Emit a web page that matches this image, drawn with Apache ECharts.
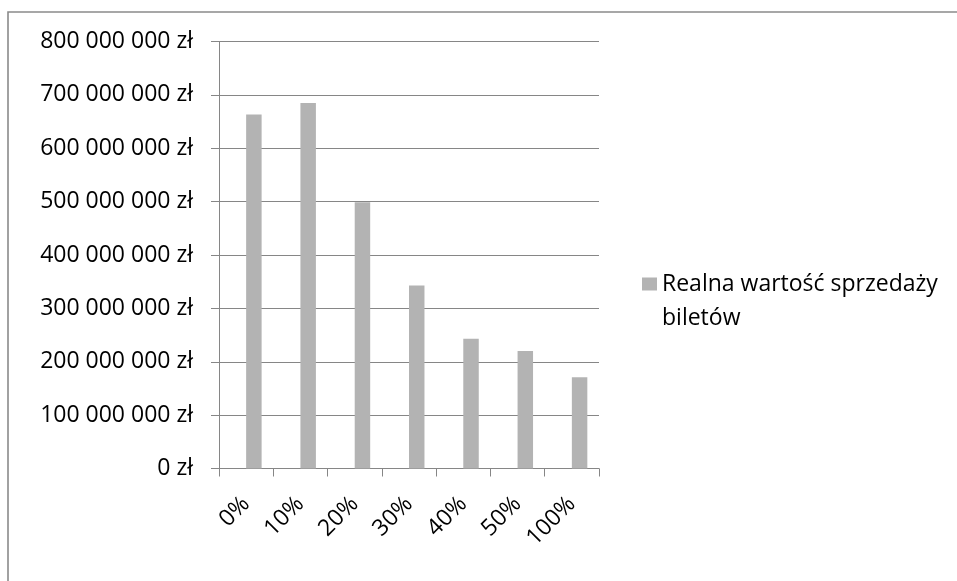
<!DOCTYPE html>
<html>
<head>
<meta charset="utf-8">
<script src="https://cdn.jsdelivr.net/npm/echarts@6/dist/echarts.min.js"></script>
<style>
  html, body { margin: 0; padding: 0; background: #ffffff; }
  #chart { width: 957px; height: 581px; }
</style>
</head>
<body>
<div id="chart"></div>
<script>
// Discount levels on the category axis
const categories = ['0%', '10%', '20%', '30%', '40%', '50%', '100%'];
// Realised ticket sales value (PLN)
const salesValues = [663000000, 685000000, 499000000, 343000000, 243000000, 220000000, 171000000];
const seriesName = 'Realna wartość sprzedaży biletów';
const legendLines = ['Realna wartość sprzedaży', 'biletów'];
// Value axis range
const yMin = 0;
const yMax = 800000000;
const yStep = 100000000;

const FONT = '"Open Sans", sans-serif';
const GRID_GREY = '#868686';
const BAR_GREY = '#b3b3b3';

function formatZl(v) {
  return String(v).replace(/\B(?=(\d{3})+(?!\d))/g, ' ') + ' zł';
}

const chart = echarts.init(document.getElementById('chart'), null, { renderer: 'canvas' });

chart.setOption({
  animation: false,
  backgroundColor: '#ffffff',
  textStyle: { fontFamily: FONT },
  graphic: [{
    type: 'rect',
    silent: true,
    shape: { x: 8, y: 12, width: 1200, height: 1200 },
    style: { fill: 'none', stroke: '#8a8a8a', lineWidth: 1.6 }
  }],
  grid: { left: 219, right: 358, top: 41.5, bottom: 112.5 },
  legend: {
    data: [seriesName],
    left: 642,
    top: 233,
    padding: 0,
    orient: 'vertical',
    icon: 'rect',
    itemWidth: 15,
    itemHeight: 13,
    // a blank leading line keeps the marker level with the first text line
    formatter: () => ' \n' + legendLines.join('\n'),
    textStyle: {
      fontFamily: FONT,
      fontSize: 23,
      color: '#000000',
      lineHeight: 34
    }
  },
  xAxis: {
    type: 'category',
    data: categories,
    axisLine: { lineStyle: { color: GRID_GREY, width: 1 } },
    axisTick: { show: true, length: 8, alignWithLabel: false, interval: 0, lineStyle: { color: GRID_GREY } },
    axisLabel: {
      interval: 0,
      rotate: 45,
      margin: 32,
      fontFamily: FONT,
      fontSize: 23,
      color: '#000000'
    }
  },
  yAxis: {
    type: 'value',
    min: yMin,
    max: yMax,
    interval: yStep,
    axisLine: { show: true, lineStyle: { color: GRID_GREY, width: 1 } },
    axisTick: { show: true, length: 8, lineStyle: { color: GRID_GREY } },
    splitLine: { show: true, lineStyle: { color: GRID_GREY, width: 1 } },
    axisLabel: {
      margin: 26,
      fontFamily: FONT,
      fontSize: 23,
      color: '#000000',
      formatter: formatZl
    }
  },
  series: [
    {
      // empty leading slot of the cluster, keeps the bars to the right of centre
      name: '_slot',
      type: 'bar',
      data: categories.map(() => null),
      barGap: '0%',
      barCategoryGap: '43%',
      itemStyle: { color: 'transparent' },
      silent: true
    },
    {
      name: seriesName,
      type: 'bar',
      data: salesValues,
      barGap: '0%',
      barCategoryGap: '43%',
      itemStyle: { color: BAR_GREY }
    }
  ]
});
</script>
</body>
</html>
